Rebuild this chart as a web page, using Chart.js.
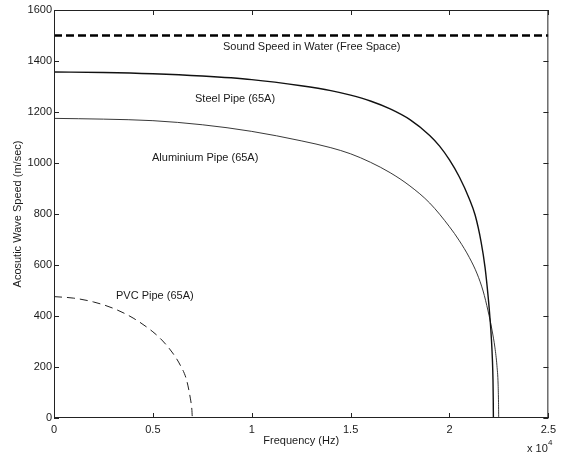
<!DOCTYPE html>
<html>
<head>
<meta charset="utf-8">
<script src="https://cdn.jsdelivr.net/npm/chart.js@4.4.1/dist/chart.umd.min.js"></script>
<style>
  html, body { margin: 0; padding: 0; background: #fff; }
  #wrap { width: 561px; height: 457px; }
</style>
</head>
<body>
<div id="wrap"><canvas id="speed-chart"></canvas></div>
<script>
// Acoustic wave speed vs frequency
// ------------------------------

// frequency in Hz, speed in m/sec
var waterFreq  = [0, 25000];
var waterSpeed = [1500, 1500];

var steelFreq  = [0, 2500, 5000, 7500, 10000, 12500, 14000, 15000, 16000, 17000, 18000, 19000, 19500, 20000, 20500, 21000, 21300, 21600, 21800, 21950, 22050, 22120, 22170, 22200, 22213, 22220];
var steelSpeed = [1357, 1355, 1350, 1341, 1327, 1303, 1284, 1266, 1243, 1212, 1170, 1108, 1066, 1012, 945, 860, 795, 690, 590, 480, 390, 310, 230, 150, 75, 0];

var aluFreq  = [0, 2500, 5000, 7500, 10000, 12500, 14000, 15000, 16000, 17000, 18000, 19000, 20000, 20500, 21000, 21400, 21700, 21950, 22150, 22300, 22400, 22460, 22480, 22490, 24300];
var aluSpeed = [1175, 1172, 1166, 1150, 1124, 1087, 1060, 1036, 1003, 962, 910, 843, 750, 695, 630, 565, 498, 420, 345, 275, 205, 130, 60, 0, 0];

var pvcFreq  = [0, 1000, 2000, 3000, 4000, 5000, 5500, 6000, 6400, 6700, 6900, 6970, 7000, 8350];
var pvcSpeed = [476, 470, 455, 430, 392, 338, 302, 255, 205, 150, 75, 35, 0, 0];

var xTicks = [0, 5000, 10000, 15000, 20000, 25000];
var xTickLabels = ["0", "0.5", "1", "1.5", "2", "2.5"];
var yTicks = [0, 200, 400, 600, 800, 1000, 1200, 1400, 1600];

var curveLabels = [
    { text: "Sound Speed in Water (Free Space)", x: 223, y: 47 },
    { text: "Steel Pipe (65A)", x: 195, y: 99 },
    { text: "Aluminium Pipe (65A)", x: 152, y: 158 },
    { text: "PVC Pipe (65A)", x: 116, y: 296 }
];

function toPoints(xs, ys) {
    return xs.map(function (x, i) { return { x: x, y: ys[i] }; });
}

var FONT = "'Liberation Sans', Arial, sans-serif";
var INK = "#1a1a1a";

// box, inward ticks on all sides, and the text annotations
var framePlugin = {
    id: "frame",
    afterDraw: function (chart) {
        var c = chart.ctx, a = chart.chartArea;
        var xs = chart.scales.x, ys = chart.scales.y;
        var tl = 5;
        c.save();
        c.strokeStyle = "#222";
        c.lineWidth = 1;
        c.strokeRect(a.left + 0.5, a.top + 0.5, a.right - a.left - 1, a.bottom - a.top - 1);
        c.beginPath();
        xTicks.forEach(function (v) {
            var px = Math.round(xs.getPixelForValue(v)) + 0.5;
            c.moveTo(px, a.bottom); c.lineTo(px, a.bottom - tl);
            c.moveTo(px, a.top); c.lineTo(px, a.top + tl);
        });
        yTicks.forEach(function (v) {
            var py = Math.round(ys.getPixelForValue(v)) + 0.5;
            c.moveTo(a.left, py); c.lineTo(a.left + tl, py);
            c.moveTo(a.right, py); c.lineTo(a.right - tl, py);
        });
        c.stroke();

        c.fillStyle = INK;
        c.font = "11px " + FONT;
        c.textBaseline = "middle";
        c.textAlign = "left";
        curveLabels.forEach(function (l) { c.fillText(l.text, l.x, l.y); });

        // exponent label
        c.fillText("x 10", 527, 449);
        c.font = "8px " + FONT;
        c.fillText("4", 548, 443);
        c.restore();
    }
};

var ctx = document.getElementById("speed-chart");

var chartData = {
    datasets: [{
        label: "Water",
        data: toPoints(waterFreq, waterSpeed),
        borderColor: "#000",
        borderWidth: 2.5,
        borderDash: [8, 4]
    }, {
        label: "Steel",
        data: toPoints(steelFreq, steelSpeed),
        borderColor: "#111",
        borderWidth: 1.4,
        cubicInterpolationMode: "monotone"
    }, {
        label: "Aluminium",
        data: toPoints(aluFreq, aluSpeed),
        borderColor: "#222",
        borderWidth: 0.9,
        cubicInterpolationMode: "monotone"
    }, {
        label: "PVC",
        data: toPoints(pvcFreq, pvcSpeed),
        borderColor: "#222",
        borderWidth: 1,
        borderDash: [8, 5],
        cubicInterpolationMode: "monotone"
    }]
};

var chartOptions = {
    responsive: true,
    maintainAspectRatio: false,
    animation: false,
    layout: { padding: { top: 10, right: 10, left: 0, bottom: 0 } },
    elements: { point: { radius: 0 } },
    plugins: { legend: { display: false }, tooltip: { enabled: false } },
    scales: {
        x: {
            type: "linear",
            min: 0, max: 25000,
            afterFit: function (s) { s.height = 39; },
            afterBuildTicks: function (s) { s.ticks = xTicks.map(function (v) { return { value: v }; }); },
            grid: { display: false, drawTicks: false },
            border: { display: false },
            ticks: {
                padding: 5,
                color: INK,
                font: { family: FONT, size: 11 },
                maxRotation: 0,
                callback: function (v) { return xTickLabels[xTicks.indexOf(v)]; }
            },
            title: {
                display: true,
                text: "Frequency (Hz)",
                color: INK,
                font: { family: FONT, size: 11 },
                padding: { top: 0, bottom: 9 }
            }
        },
        y: {
            min: 0, max: 1600,
            afterFit: function (s) { s.width = 54; },
            afterBuildTicks: function (s) { s.ticks = yTicks.map(function (v) { return { value: v }; }); },
            grid: { display: false, drawTicks: false },
            border: { display: false },
            ticks: {
                padding: 2,
                color: INK,
                font: { family: FONT, size: 11 },
                callback: function (v) { return String(v); }
            },
            title: {
                display: true,
                text: "Acosutic Wave Speed (m/sec)",
                color: INK,
                font: { family: FONT, size: 11 },
                padding: { top: 11, bottom: 0 }
            }
        }
    }
};

var config = {
    type: "line",
    data: chartData,
    options: chartOptions,
    plugins: [framePlugin]
};

// Create the chart
var speedChart = new Chart(ctx, config);
</script>
</body>
</html>
